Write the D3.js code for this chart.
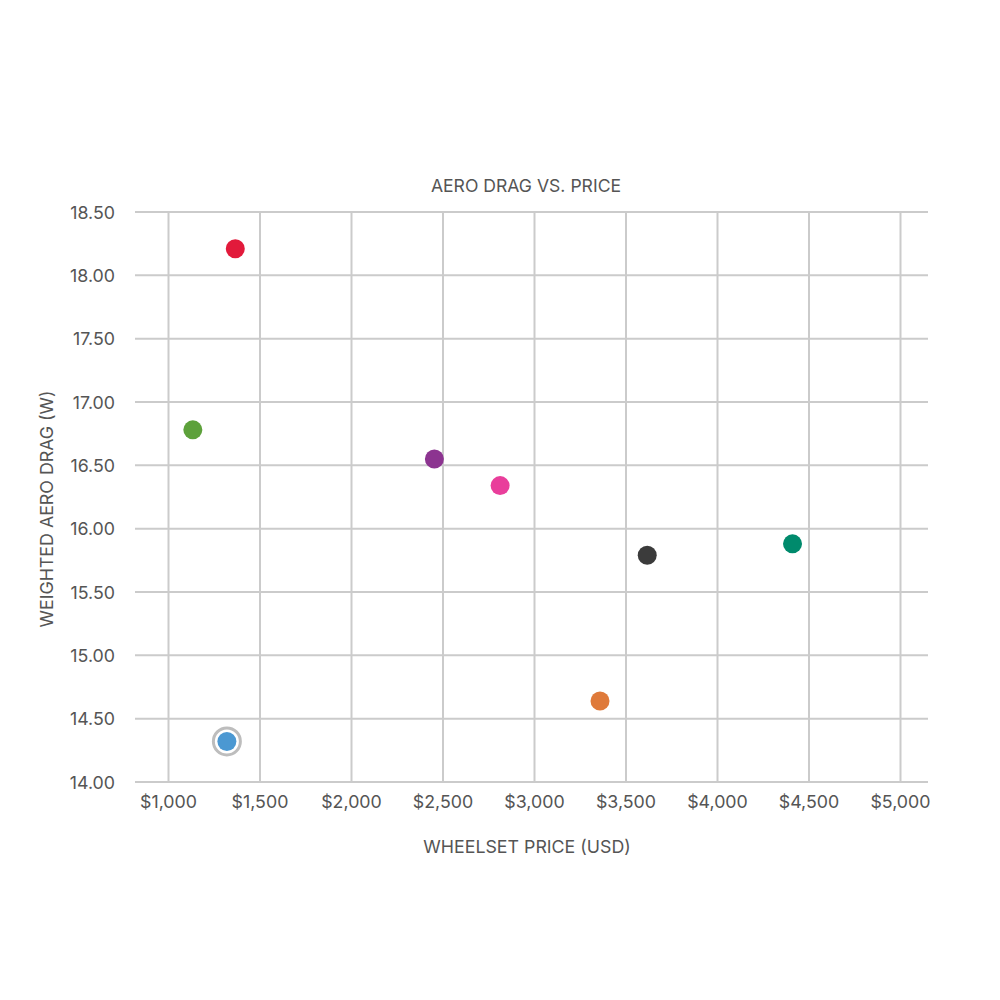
<!DOCTYPE html>
<html>
<head>
<meta charset="utf-8">
<script src="https://cdn.jsdelivr.net/npm/d3@7"></script>
<style>
  body { margin: 0; background: #fff; }
  svg { font-family: Inter, "Noto Sans", sans-serif; }
</style>
</head>
<body>
<svg id="chart"></svg>
<script>
// wheelset price vs weighted aero drag
var prices = [1365, 1133, 2453, 2812, 3616, 4410, 3358, 1319];
var drags = [18.21, 16.78, 16.55, 16.34, 15.79, 15.88, 14.64, 14.32];
var colors = ["#e21a3b", "#5da13b", "#8c3490", "#e93e9b", "#3b3b3b", "#008a6c", "#df7a3a", "#4b98d2"];
var highlighted = [false, false, false, false, false, false, false, true];

var xTicks = [1000, 1500, 2000, 2500, 3000, 3500, 4000, 4500, 5000];
var yTicks = [14, 14.5, 15, 15.5, 16, 16.5, 17, 17.5, 18, 18.5];

var width = 1000, height = 1000;
var svg = d3.select("#chart").attr("width", width).attr("height", height);

var x = d3.scaleLinear().domain([1000, 5000]).range([168.5, 900.5]);
var y = d3.scaleLinear().domain([14, 18.5]).range([782, 212]);

var gridColor = "#cbcbcb";
var textColor = "#555";

// horizontal gridlines
svg.append("g")
    .selectAll("line")
    .data(yTicks)
    .enter().append("line")
    .attr("x1", 135)
    .attr("x2", 928)
    .attr("y1", function (d) { return y(d); })
    .attr("y2", function (d) { return y(d); })
    .style("stroke", gridColor)
    .attr("stroke-width", 2);

// vertical gridlines
svg.append("g")
    .selectAll("line")
    .data(xTicks)
    .enter().append("line")
    .attr("x1", function (d) { return x(d); })
    .attr("x2", function (d) { return x(d); })
    .attr("y1", y(18.5))
    .attr("y2", y(14))
    .style("stroke", gridColor)
    .attr("stroke-width", 2);

// y tick labels
svg.append("g")
    .selectAll("text")
    .data(yTicks)
    .enter().append("text")
    .attr("x", 115)
    .attr("y", function (d) { return y(d); })
    .attr("dy", "0.38em")
    .attr("text-anchor", "end")
    .attr("font-size", 17.8)
    .attr("fill", textColor)
    .text(function (d) { return d3.format(".2f")(d); });

// x tick labels
var fmtPrice = d3.format("$,");
svg.append("g")
    .selectAll("text")
    .data(xTicks)
    .enter().append("text")
    .attr("x", function (d) { return x(d); })
    .attr("y", 808)
    .attr("text-anchor", "middle")
    .attr("font-size", 17.8)
    .attr("fill", textColor)
    .text(function (d) { return fmtPrice(d); });

// titles
svg.append("text")
    .attr("x", 526)
    .attr("y", 192)
    .attr("text-anchor", "middle")
    .attr("font-size", 17.6)
    .attr("fill", textColor)
    .text("AERO DRAG VS. PRICE");

svg.append("text")
    .attr("x", 527)
    .attr("y", 853)
    .attr("text-anchor", "middle")
    .attr("font-size", 17.8)
    .attr("fill", textColor)
    .text("WHEELSET PRICE (USD)");

svg.append("text")
    .attr("transform", "translate(52.5,509) rotate(-90)")
    .attr("text-anchor", "middle")
    .attr("font-size", 17.8)
    .attr("fill", textColor)
    .text("WEIGHTED AERO DRAG (W)");

// points
var pts = d3.range(prices.length);

svg.append("g")
    .selectAll("circle")
    .data(pts.filter(function (i) { return highlighted[i]; }))
    .enter().append("circle")
    .attr("cx", function (i) { return x(prices[i]); })
    .attr("cy", function (i) { return y(drags[i]); })
    .attr("r", 13.5)
    .attr("fill", "#fff")
    .style("stroke", "#bdbdbd")
    .attr("stroke-width", 3);

svg.append("g")
    .selectAll("circle")
    .data(pts)
    .enter().append("circle")
    .attr("cx", function (i) { return x(prices[i]); })
    .attr("cy", function (i) { return y(drags[i]); })
    .attr("r", 9.5)
    .attr("fill", function (i) { return colors[i]; });
</script>
</body>
</html>
